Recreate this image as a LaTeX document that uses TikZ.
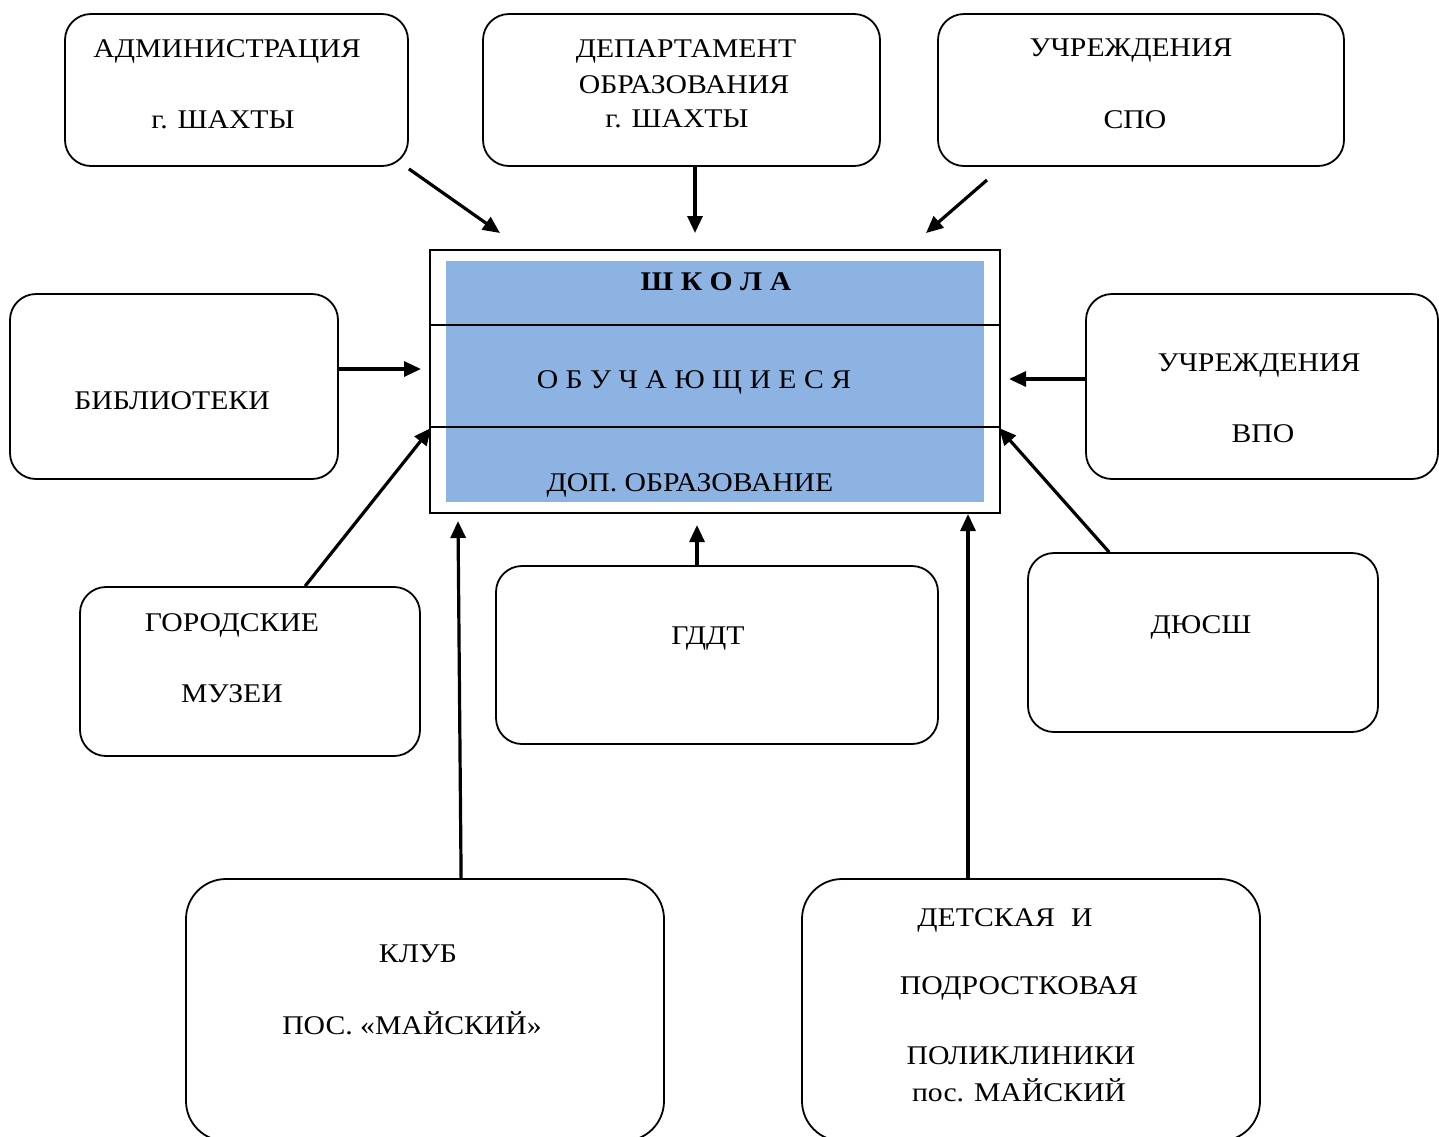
\documentclass[tikz,border=0pt]{standalone}
\usepackage{fontspec}
\setmainfont{Liberation Serif}[FakeStretch=1.1]
\usetikzlibrary{arrows.meta}
\definecolor{schoolblue}{RGB}{141,179,226}
\tikzset{
  box/.style={draw=black, line width=1.8pt, rounded corners=26pt, inner sep=0pt},
  bigbox/.style={draw=black, line width=1.8pt, rounded corners=40pt, inner sep=0pt},
  lbl/.style={inner sep=0pt, font=\fontsize{27}{30}\selectfont, anchor=center, yshift=-3pt},
  arr/.style={line width=3.2pt, -{Triangle[length=17pt,width=15pt]}},
}
\begin{document}
\begin{tikzpicture}[x=1pt,y=-1pt]
\useasboundingbox (0,0) rectangle (1439,1136);
\begin{scope}
\clip (0,0) rectangle (1439,1136);
% boxes
\node[box, minimum width=343pt, minimum height=152pt] (adm) at (236.5,90) {};
\node[box, minimum width=397pt, minimum height=152pt] (dep) at (681.5,90) {};
\node[box, minimum width=406pt, minimum height=152pt] (spo) at (1141,90) {};
\node[box, minimum width=328pt, minimum height=185pt] (lib) at (174,386.5) {};
\node[box, minimum width=352pt, minimum height=185pt] (vpo) at (1262,386.5) {};
\node[box, minimum width=340pt, minimum height=169pt] (mus) at (250,671.5) {};
\node[box, minimum width=442pt, minimum height=178pt] (gddt) at (717,655) {};
\node[box, minimum width=350pt, minimum height=179pt] (dyu) at (1203,642.5) {};
\node[bigbox, minimum width=478pt, minimum height=262pt] (club) at (425,1010) {};
\node[bigbox, minimum width=458pt, minimum height=262pt] (pol) at (1031,1010) {};
% school
\node[draw=black, line width=1.5pt, minimum width=570pt, minimum height=263pt, inner sep=0pt] (school) at (715,381.5) {};
\fill[schoolblue] (446,261) rectangle (984,502);
\draw[line width=1.5pt] (430,250) rectangle (1000,513);
\draw[line width=1.5pt] (430,325) -- (1000,325);
\draw[line width=1.5pt] (430,427) -- (1000,427);
\node[lbl, font=\fontsize{27}{30}\selectfont\bfseries] (t1) at (716,279) {Ш К О Л А};
\node[lbl] (t2) at (694,379) {О Б У Ч А Ю Щ И Е С Я};
\node[lbl] (t3) at (690,482) {ДОП. ОБРАЗОВАНИЕ};
% texts
\node[lbl] (a1) at (227,48) {АДМИНИСТРАЦИЯ};
\node[lbl] (a2) at (223,117) {г. ШАХТЫ};
\node[lbl] (d1) at (686,48) {ДЕПАРТАМЕНТ};
\node[lbl] (d2) at (684,82) {ОБРАЗОВАНИЯ};
\node[lbl] (d3) at (677,116) {г. ШАХТЫ};
\node[lbl] (s1) at (1131,48) {УЧРЕЖДЕНИЯ};
\node[lbl] (s2) at (1135,117) {СПО};
\node[lbl] (l1) at (172,398) {БИБЛИОТЕКИ};
\node[lbl] (v1) at (1259,363) {УЧРЕЖДЕНИЯ};
\node[lbl] (v2) at (1263,431) {ВПО};
\node[lbl] (m1) at (232,622) {ГОРОДСКИЕ};
\node[lbl] (m2) at (232,691) {МУЗЕИ};
\node[lbl] (g1) at (708,636) {ГДДТ};
\node[lbl] (y1) at (1201,624) {ДЮСШ};
\node[lbl] (c1) at (418,951) {КЛУБ};
\node[lbl] (c2) at (412,1020) {ПОС. «МАЙСКИЙ»};
\node[lbl] (p1) at (1005,917) {ДЕТСКАЯ\hspace{0.6em}И};
\node[lbl] (p2) at (1019,985) {ПОДРОСТКОВАЯ};
\node[lbl] (p3) at (1021,1053) {ПОЛИКЛИНИКИ};
\node[lbl] (p4) at (1019,1087) {пос. МАЙСКИЙ};
% arrow end points
\coordinate (eadm) at (500,233);
\coordinate (edep) at (695,233);
\coordinate (sspo) at (987,180);
\coordinate (espo) at (926,233);
\coordinate (elib) at (421,369);
\coordinate (evpo) at (1009,379);
\coordinate (emus) at (431,428);
\coordinate (edyu) at (999,428);
\coordinate (eclub) at (458,521);
\coordinate (egddt) at (697,525);
\coordinate (epol) at (968,514);
% arrows
\draw[arr] (adm.south east) ++(0,2) -- (eadm);
\draw[arr] (dep.south -| edep) -- (edep);
\draw[arr] (sspo) -- (espo);
\draw[arr] (lib.east |- elib) -- (elib);
\draw[arr] (vpo.west |- evpo) -- (evpo);
\draw[arr] (mus.north west) ++(226,0) -- (emus);
\draw[arr] (dyu.north west) ++(82,0) -- (edyu);
\draw[arr] (club.north west) ++(276,0) -- (eclub);
\draw[arr] (gddt.north -| egddt) -- (egddt);
\draw[arr] (pol.north -| epol) -- (epol);
\end{scope}
\end{tikzpicture}
\end{document}
